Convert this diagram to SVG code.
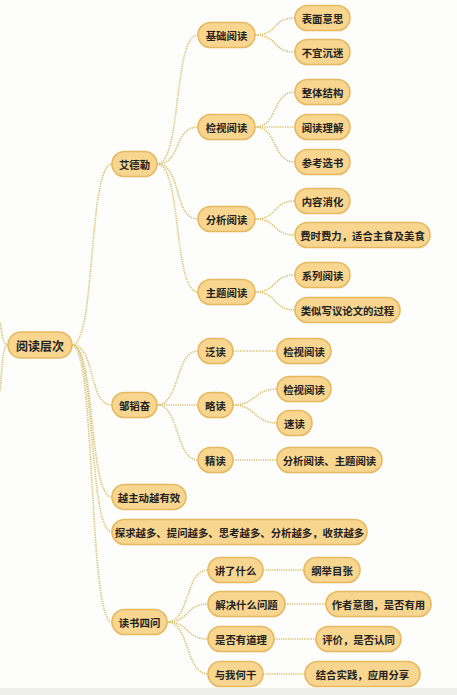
<svg xmlns="http://www.w3.org/2000/svg" width="457" height="695" viewBox="0 0 457 695">
<style>
.n rect{fill:#f8d690;stroke:#e6b860;stroke-width:1.6}
.n text{font-family:"Noto Sans CJK SC","Noto Sans",sans-serif;font-size:10.4px;font-weight:bold;fill:#222;text-anchor:middle;dominant-baseline:central}
#root text{font-size:12px}
#c path{fill:none;stroke:#d8c070;stroke-width:1.7;stroke-dasharray:1.2 1.1}
</style>
<rect width="457" height="695" fill="#fdfdfb"/>
<rect y="688" width="457" height="7" fill="#eeeeec"/>
<g id="c">
<path d="M8,345 C2,345 2,330 0,322"/>
<path d="M8,345 C2,345 2,372 0,392"/>
<path d="M72,345 C96,345 88,164 112,164"/>
<path d="M72,345 C96,345 88,405 112,405"/>
<path d="M72,345 C96,345 88,497 112,497"/>
<path d="M72,345 C96,345 88,532 112,532"/>
<path d="M72,345 C96,345 88,622 112,622"/>
<path d="M157,164 C182,164 173,35 198,35"/>
<path d="M157,164 C182,164 173,127 198,127"/>
<path d="M157,164 C182,164 173,219 198,219"/>
<path d="M157,164 C182,164 173,292 198,292"/>
<path d="M255,35 C278,35 272,18 295,18"/>
<path d="M255,35 C278,35 272,52 295,52"/>
<path d="M255,127 C278,127 272,92 295,92"/>
<path d="M255,127 L295,127"/>
<path d="M255,127 C278,127 272,162 295,162"/>
<path d="M255,219 C278,219 272,201 295,201"/>
<path d="M255,219 C278,219 272,235 295,235"/>
<path d="M255,292 C278,292 272,275 295,275"/>
<path d="M255,292 C278,292 272,310 295,310"/>
<path d="M157,405 C180,405 175,351 198,351"/>
<path d="M157,405 L198,405"/>
<path d="M157,405 C180,405 175,460 198,460"/>
<path d="M233,351 L277,351"/>
<path d="M233,405 C256,405 254,389 277,389"/>
<path d="M233,405 C256,405 254,423 277,423"/>
<path d="M233,460 L277,460"/>
<path d="M167,622 C190,622 185,570 208,570"/>
<path d="M167,622 C190,622 185,604 208,604"/>
<path d="M167,622 C190,622 185,639 208,639"/>
<path d="M167,622 C190,622 185,674 208,674"/>
<path d="M263,570 L304,570"/>
<path d="M285,604 L326,604"/>
<path d="M274,639 L316,639"/>
<path d="M263,674 L305,674"/>
</g>
<g id="root" class="n"><rect x="8" y="332" width="64" height="26" rx="13"/><text x="40" y="345">阅读层次</text></g>
<g id="n_adler" class="n"><rect x="112" y="151.5" width="45" height="25" rx="12.5"/><text x="134.5" y="164">艾德勒</text></g>
<g id="n_zou" class="n"><rect x="112" y="392.5" width="45" height="25" rx="12.5"/><text x="134.5" y="405">邹韬奋</text></g>
<g id="n_active" class="n"><rect x="112" y="484.5" width="74" height="25" rx="12.5"/><text x="149" y="497">越主动越有效</text></g>
<g id="n_explore" class="n"><rect x="112" y="519.5" width="255" height="25" rx="12.5"/><text x="239.5" y="532">探求越多、提问越多、思考越多、分析越多，收获越多</text></g>
<g id="n_four" class="n"><rect x="112" y="609.5" width="55" height="25" rx="12.5"/><text x="139.5" y="622">读书四问</text></g>
<g id="n_basic" class="n"><rect x="198" y="22.5" width="57" height="25" rx="12.5"/><text x="226.5" y="35">基础阅读</text></g>
<g id="n_insp" class="n"><rect x="198" y="114.5" width="57" height="25" rx="12.5"/><text x="226.5" y="127">检视阅读</text></g>
<g id="n_anal" class="n"><rect x="198" y="206.5" width="57" height="25" rx="12.5"/><text x="226.5" y="219">分析阅读</text></g>
<g id="n_topic" class="n"><rect x="198" y="279.5" width="57" height="25" rx="12.5"/><text x="226.5" y="292">主题阅读</text></g>
<g id="n_surface" class="n"><rect x="295" y="5.5" width="55" height="25" rx="12.5"/><text x="322.5" y="18">表面意思</text></g>
<g id="n_nomire" class="n"><rect x="295" y="39.5" width="55" height="25" rx="12.5"/><text x="322.5" y="52">不宜沉迷</text></g>
<g id="n_struct" class="n"><rect x="295" y="79.5" width="55" height="25" rx="12.5"/><text x="322.5" y="92">整体结构</text></g>
<g id="n_under" class="n"><rect x="295" y="114.5" width="55" height="25" rx="12.5"/><text x="322.5" y="127">阅读理解</text></g>
<g id="n_select" class="n"><rect x="295" y="149.5" width="55" height="25" rx="12.5"/><text x="322.5" y="162">参考选书</text></g>
<g id="n_digest" class="n"><rect x="295" y="188.5" width="55" height="25" rx="12.5"/><text x="322.5" y="201">内容消化</text></g>
<g id="n_effort" class="n"><rect x="295" y="222.5" width="135" height="25" rx="12.5"/><text x="362.5" y="235">费时费力，适合主食及美食</text></g>
<g id="n_series" class="n"><rect x="295" y="262.5" width="55" height="25" rx="12.5"/><text x="322.5" y="275">系列阅读</text></g>
<g id="n_essay" class="n"><rect x="295" y="297.5" width="105" height="25" rx="12.5"/><text x="347.5" y="310">类似写议论文的过程</text></g>
<g id="n_fan" class="n"><rect x="198" y="338.5" width="35" height="25" rx="12.5"/><text x="215.5" y="351">泛读</text></g>
<g id="n_lue" class="n"><rect x="198" y="392.5" width="35" height="25" rx="12.5"/><text x="215.5" y="405">略读</text></g>
<g id="n_jing" class="n"><rect x="198" y="447.5" width="35" height="25" rx="12.5"/><text x="215.5" y="460">精读</text></g>
<g id="n_insp2" class="n"><rect x="277" y="338.5" width="54" height="25" rx="12.5"/><text x="304" y="351">检视阅读</text></g>
<g id="n_insp3" class="n"><rect x="277" y="376.5" width="54" height="25" rx="12.5"/><text x="304" y="389">检视阅读</text></g>
<g id="n_speed" class="n"><rect x="277" y="410.5" width="35" height="25" rx="12.5"/><text x="294.5" y="423">速读</text></g>
<g id="n_at" class="n"><rect x="277" y="447.5" width="105" height="25" rx="12.5"/><text x="329.5" y="460">分析阅读、主题阅读</text></g>
<g id="n_q1" class="n"><rect x="208" y="557.5" width="55" height="25" rx="12.5"/><text x="235.5" y="570">讲了什么</text></g>
<g id="n_q2" class="n"><rect x="208" y="591.5" width="77" height="25" rx="12.5"/><text x="246.5" y="604">解决什么问题</text></g>
<g id="n_q3" class="n"><rect x="208" y="626.5" width="66" height="25" rx="12.5"/><text x="241" y="639">是否有道理</text></g>
<g id="n_q4" class="n"><rect x="208" y="661.5" width="55" height="25" rx="12.5"/><text x="235.5" y="674">与我何干</text></g>
<g id="n_a1" class="n"><rect x="304" y="557.5" width="56" height="25" rx="12.5"/><text x="332" y="570">纲举目张</text></g>
<g id="n_a2" class="n"><rect x="326" y="591.5" width="105" height="25" rx="12.5"/><text x="378.5" y="604">作者意图，是否有用</text></g>
<g id="n_a3" class="n"><rect x="316" y="626.5" width="85" height="25" rx="12.5"/><text x="358.5" y="639">评价，是否认同</text></g>
<g id="n_a4" class="n"><rect x="305" y="661.5" width="115" height="25" rx="12.5"/><text x="362.5" y="674">结合实践，应用分享</text></g>
</svg>
